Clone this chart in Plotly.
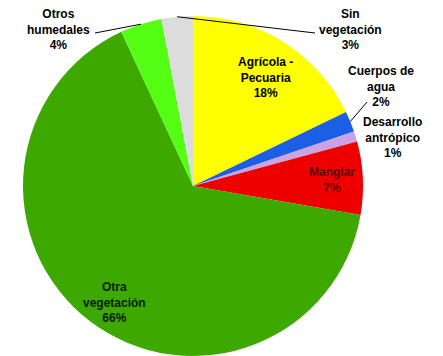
import math
import plotly.graph_objects as go

# Land cover shares (%), clockwise from 12 o'clock
categories = ["Agrícola - Pecuaria", "Cuerpos de agua", "Desarrollo antrópico",
              "Manglar", "Otra vegetación", "Otros humedales", "Sin vegetación"]
label_lines = [["Agrícola -", "Pecuaria"], ["Cuerpos de", "agua"], ["Desarrollo", "antrópico"],
               ["Manglar"], ["Otra", "vegetación"], ["Otros", "humedales"], ["Sin", "vegetación"]]
percent = [18, 2, 1, 7, 66, 4, 3]
colors = ["#FFFF00", "#1A5FE6", "#C9A3E6", "#EE0000", "#3DA800", "#55FF14", "#DCDCDC"]
text_colors = ["#000000", "#000000", "#000000", "#5A0000", "#0A2000", "#000000", "#000000"]

W, H = 443, 356
CX, CY, R = 193, 186, 170  # pie centre and radius in pixels

# label centres (pixels) and which slices get a leader line to a text anchor
label_pos = [(265, 77), (381, 86), (392, 138), (332, 180), (114, 302), (59, 29), (350, 29)]
leader_anchor = {1: (367, 102), 5: (95, 33), 6: (315, 33)}


def px(x, y):
    return x / W, 1 - y / H


fig = go.Figure(go.Pie(
    labels=categories,
    values=percent,
    sort=False,
    direction="clockwise",
    rotation=0,
    marker=dict(colors=colors, line=dict(width=0)),
    textinfo="none",
    hoverinfo="label+percent",
    domain=dict(x=[(CX - R) / W, (CX + R) / W], y=[(H - CY - R) / H, (H - CY + R) / H]),
))

annotations = []
shapes = []
total = sum(percent)
cum = 0
for i, (lines, v) in enumerate(zip(label_lines, percent)):
    mid = (cum + v / 2) / total * 2 * math.pi
    cum += v
    text = "<br>".join(f"<b>{t}</b>" for t in lines + [f"{v}%"])
    x, y = px(*label_pos[i])
    annotations.append(dict(
        x=x, y=y, xref="paper", yref="paper", text=text, showarrow=False,
        xanchor="center", yanchor="middle", align="center",
        font=dict(family="Liberation Sans, Arial, sans-serif", size=12, color=text_colors[i]),
    ))
    if i in leader_anchor:
        ex = CX + R * math.sin(mid)
        ey = CY - R * math.cos(mid)
        ax, ay = leader_anchor[i]
        x0, y0 = px(ex, ey)
        x1, y1 = px(ax, ay)
        shapes.append(dict(type="line", xref="paper", yref="paper",
                           x0=x0, y0=y0, x1=x1, y1=y1,
                           line=dict(color="#000000", width=1)))

fig.update_layout(
    width=W, height=H,
    margin=dict(l=0, r=0, t=0, b=0),
    paper_bgcolor="white",
    plot_bgcolor="white",
    showlegend=False,
    annotations=annotations,
    shapes=shapes,
)

fig.write_html("out.html")
